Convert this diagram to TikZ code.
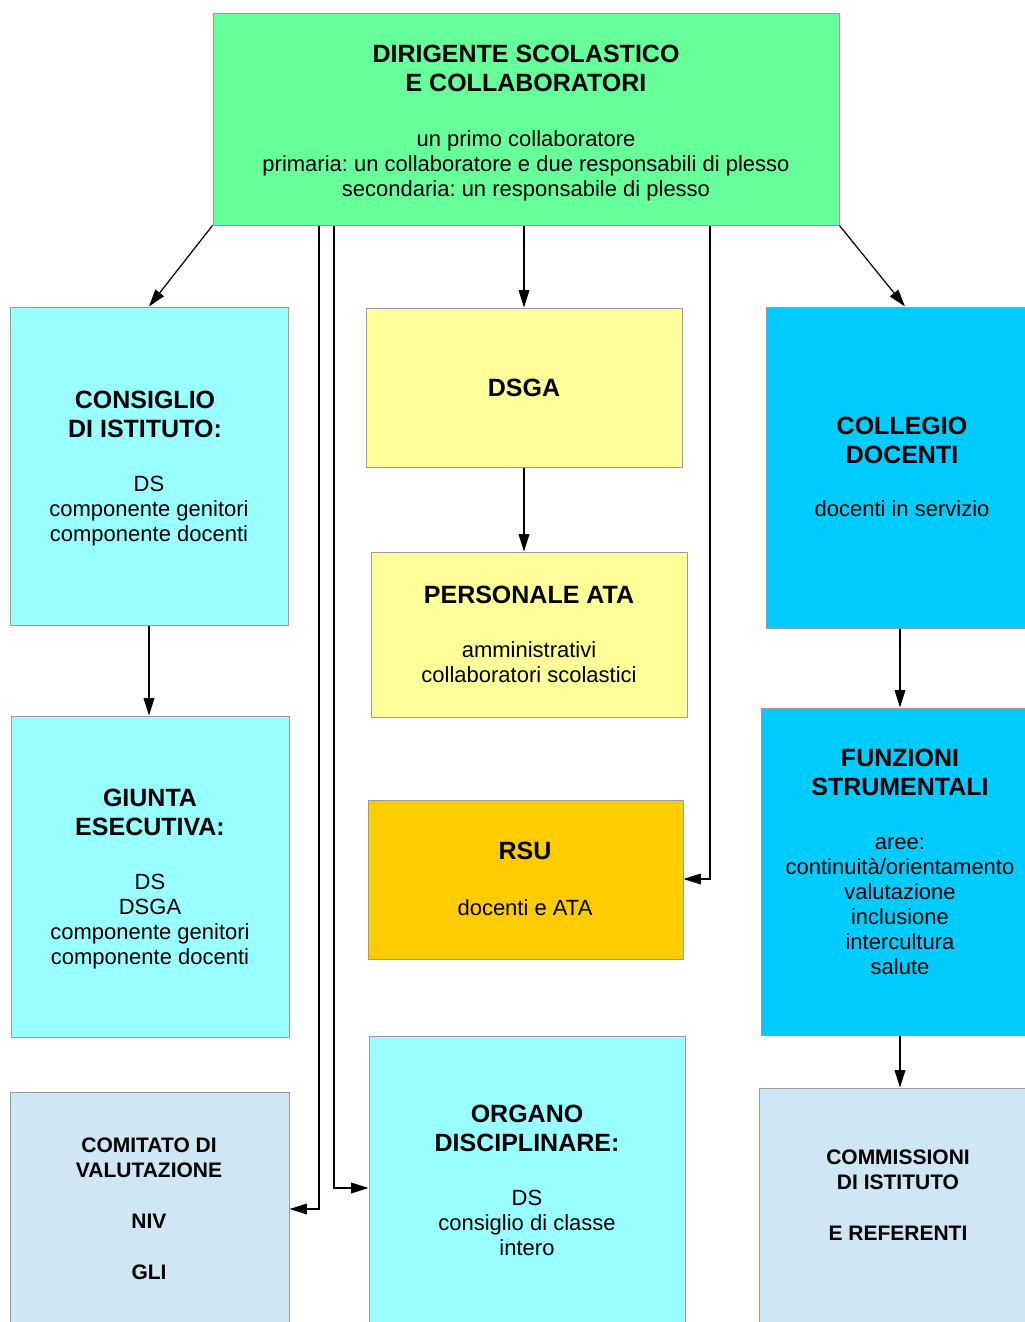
\documentclass[tikz,border=0pt]{standalone}
\usepackage{fontspec}
\setmainfont{Liberation Sans}
\usetikzlibrary{arrows.meta}
\frenchspacing
\definecolor{cgreen}{HTML}{66FF99}
\definecolor{ccyan}{HTML}{99FFFF}
\definecolor{cyel}{HTML}{FFFF99}
\definecolor{corange}{HTML}{FFCC00}
\definecolor{cblue}{HTML}{00CCFF}
\definecolor{csteel}{HTML}{CFE7F5}
\definecolor{cborder}{HTML}{9A9A9A}
\tikzset{
  box/.style={draw=cborder, line width=0.75pt, rectangle, inner sep=0pt},
  ttl/.style={anchor=north, inner sep=0pt, align=center, font=\fontsize{18.75pt}{21.75pt}\selectfont\bfseries\frenchspacing},
  ttlsm/.style={anchor=north, inner sep=0pt, align=center, font=\fontsize{15.75pt}{19.125pt}\selectfont\bfseries\frenchspacing},
  bdy/.style={anchor=north, inner sep=0pt, align=center, font=\fontsize{16.5pt}{18.75pt}\selectfont\frenchspacing},
  arr/.style={draw=black, line width=0.9pt, -{Triangle[length=13pt,width=8pt]}}
}
\begin{document}
\begin{tikzpicture}[x=0.75pt,y=-0.75pt]
\path[use as bounding box, clip] (0,0) rectangle (1025,1322);
\fill[white] (0,0) rectangle (1025,1322);
% boxes
\node[box, fill=cgreen, minimum width=469.5pt, minimum height=159pt] (top) at (526,119) {};
\node[box, fill=ccyan, minimum width=208.5pt, minimum height=238.5pt] (cons) at (149,466) {};
\node[box, fill=cyel, minimum width=237pt, minimum height=119.25pt] (dsga) at (524,387.5) {};
\node[box, fill=cblue, minimum width=208.5pt, minimum height=240.75pt] (coll) at (905,467.5) {};
\node[box, fill=cyel, minimum width=237pt, minimum height=123.75pt] (pers) at (529,634.5) {};
\node[box, fill=ccyan, minimum width=208.5pt, minimum height=240.75pt] (giunta) at (150,876.5) {};
\node[box, fill=corange, minimum width=236.25pt, minimum height=119.25pt] (rsu) at (525.5,879.5) {};
\node[box, fill=cblue, minimum width=208.5pt, minimum height=245.25pt] (funz) at (900,871.5) {};
\node[box, fill=csteel, minimum width=209.25pt, minimum height=186pt] (comit) at (149.5,1216) {};
\node[box, fill=ccyan, minimum width=237pt, minimum height=228pt] (organo) at (527,1188) {};
\node[box, fill=csteel, minimum width=208.5pt, minimum height=189pt] (commis) at (898,1214) {};
% texts
\node[ttl] (topT) at (526,45) {DIRIGENTE SCOLASTICO\\E COLLABORATORI};
\node[bdy] (topB) at (526,130) {un primo collaboratore\\primaria: un collaboratore e due responsabili di plesso\\secondaria: un responsabile di plesso};
\node[ttl] (consT) at (145,391) {CONSIGLIO\\DI ISTITUTO:};
\node[bdy] (consB) at (149,476) {DS\\componente genitori\\componente docenti};
\node[ttl] (dsgaT) at (524,379) {DSGA};
\node[ttl] (collT) at (902,417) {COLLEGIO\\DOCENTI};
\node[bdy] (collB) at (902,500) {docenti in servizio};
\node[ttl] (persT) at (529,586) {PERSONALE ATA};
\node[bdy] (persB) at (529,641) {amministrativi\\collaboratori scolastici};
\node[ttl] (giuntaT) at (150,789) {GIUNTA\\ESECUTIVA:};
\node[bdy] (giuntaB) at (150,874) {DS\\DSGA\\componente genitori\\componente docenti};
\node[ttl] (rsuT) at (525,842) {RSU};
\node[bdy] (rsuB) at (525,899) {docenti e ATA};
\node[ttl] (funzT) at (900,749) {FUNZIONI\\STRUMENTALI};
\node[bdy] (funzB) at (900,837) {aree:\\continuità/orientamento\\valutazione\\inclusione\\intercultura\\salute};
\node[ttlsm] (comitT) at (149,1137.5) {COMITATO DI\\VALUTAZIONE\\[19.125pt]NIV\\[19.125pt]GLI};
\node[ttl] (organoT) at (527,1105) {ORGANO\\DISCIPLINARE:};
\node[bdy] (organoB) at (527,1190) {DS\\consiglio di classe\\intero};
\node[ttlsm] (commisT) at (898,1149.5) {COMMISSIONI\\DI ISTITUTO\\[19.125pt]E REFERENTI};
% connectors
\coordinate (k1) at (710,879);
\coordinate (k2) at (319,1209);
\coordinate (k3) at (334,1188);
\draw[arr] (top.south west) -- (cons.north);
\draw[arr] (top.south east) -- (coll.north);
\draw[arr] (top.south -| dsga.north) -- (dsga.north);
\draw[arr] (dsga.south) -- (dsga.south |- pers.north);
\draw[arr] (cons.south) -- (cons.south |- giunta.north);
\draw[arr] (funz.north |- coll.south) -- (funz.north);
\draw[arr] (funz.south) -- (funz.south |- commis.north);
\draw[arr] (top.south -| k1) -- (k1) -- (k1 -| rsu.east);
\draw[arr] (top.south -| k2) -- (k2) -- (k2 -| comit.east);
\draw[arr] (top.south -| k3) -- (k3) -- (k3 -| organo.west);
\end{tikzpicture}
\end{document}
